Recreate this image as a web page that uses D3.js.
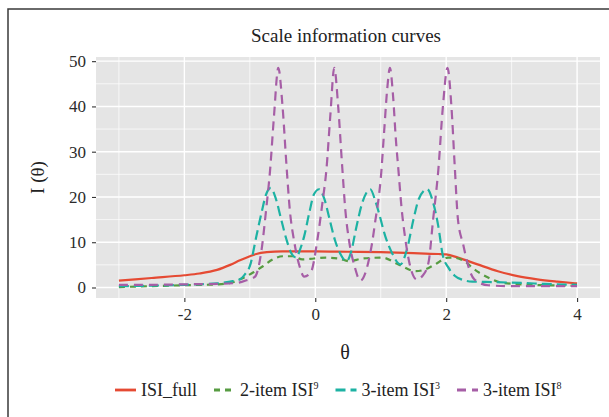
<!DOCTYPE html>
<html>
<head>
<meta charset="utf-8">
<script src="https://cdn.jsdelivr.net/npm/d3@7"></script>
<style>
  body { margin: 0; background: #fff; }
  svg { display: block; font-family: "Liberation Serif", "DejaVu Serif", serif; }
</style>
</head>
<body>
<div id="viz"></div>
<script>
// values
const seriesNames = ['ISI_full', '2-item ISI', '3-item ISI', '3-item ISI'];
const seriesSup = ['', '9', '3', '8'];

const thetaFull = [-3, -2.5, -2, -1.77, -1.5, -1.3, -1.15, -1.0, -0.9, -0.74, -0.5, 0, 0.5, 1.0, 1.5, 1.88, 2.0, 2.18, 2.48, 2.79, 3.09, 3.39, 3.7, 4.0];
const infoFull = [1.5, 2.1, 2.7, 3.1, 3.9, 5.0, 6.0, 6.9, 7.4, 7.8, 8.0, 8.0, 7.9, 7.8, 7.6, 7.4, 7.3, 6.6, 5.1, 3.6, 2.5, 1.8, 1.3, 0.9];

const thetaIsi9 = [-3, -2.5, -2, -1.5, -1.3, -1.15, -0.95, -0.8, -0.65, -0.5, -0.33, -0.2, -0.02, 0.16, 0.36, 0.52, 0.72, 1.02, 1.27, 1.53, 1.68, 1.83, 2.03, 2.1, 2.28, 2.43, 2.64, 2.84, 3.15, 3.5, 4];
const infoIsi9 = [0.1, 0.3, 0.5, 0.7, 1.0, 1.8, 3.3, 4.7, 6.2, 6.9, 6.9, 6.2, 6.4, 6.6, 6.4, 5.8, 6.4, 6.6, 5.1, 3.6, 4.0, 5.1, 6.6, 6.6, 5.8, 4.0, 2.2, 1.1, 0.7, 0.5, 0.4];

const thetaIsi3 = [-3, -2.5, -2, -1.5, -1.3, -1.15, -1.07, -1.0, -0.9, -0.82, -0.75, -0.68, -0.6, -0.52, -0.44, -0.37, -0.29, -0.23, -0.17, -0.09, -0.02, 0.06, 0.14, 0.22, 0.3, 0.38, 0.48, 0.55, 0.62, 0.72, 0.84, 0.92, 0.97, 1.07, 1.17, 1.3, 1.4, 1.5, 1.58, 1.71, 1.8, 1.88, 1.95, 2.03, 2.13, 2.25, 2.4, 2.7, 3.15, 3.5, 4];
const infoIsi3 = [0.3, 0.4, 0.6, 0.9, 1.3, 1.8, 3.0, 4.7, 11.3, 16.6, 20.6, 22.0, 19.5, 15.0, 10.6, 7.7, 6.6, 8.5, 11.3, 16.6, 20.6, 21.7, 19.5, 15.0, 10.5, 7.5, 5.8, 8.0, 12.8, 18.8, 21.7, 19.0, 16.6, 11.3, 7.7, 5.1, 8.4, 15.0, 19.5, 21.7, 18.8, 13.5, 7.0, 4.5, 2.6, 1.7, 1.3, 1.2, 1.0, 0.8, 0.6];

const thetaIsi8 = [-3, -2.5, -2, -1.5, -1.2, -1.05, -0.92, -0.82, -0.75, -0.69, -0.63, -0.565, -0.5, -0.44, -0.39, -0.32, -0.24, -0.17, -0.07, 0.04, 0.11, 0.17, 0.23, 0.29, 0.35, 0.41, 0.46, 0.52, 0.6, 0.69, 0.76, 0.82, 0.87, 0.92, 0.97, 1.0, 1.05, 1.1, 1.14, 1.19, 1.23, 1.27, 1.32, 1.37, 1.45, 1.55, 1.64, 1.73, 1.8, 1.88, 1.95, 2.02, 2.08, 2.13, 2.18, 2.26, 2.33, 2.43, 2.64, 3, 3.5, 4];
const infoIsi8 = [0.6, 0.6, 0.7, 0.8, 1.0, 1.6, 2.4, 8.4, 17.3, 26, 38, 48.5, 40, 27, 17.3, 10, 4.7, 2.4, 3.3, 11.3, 18.8, 26, 38, 48.5, 40, 27, 17, 10, 4.7, 1.5, 3.0, 6.2, 10, 15, 20, 24, 34, 44, 48.5, 42, 33, 26, 17.3, 11.3, 4.7, 1.8, 2.6, 5.5, 15, 26, 40, 48.5, 40, 27, 15, 9.5, 5.1, 1.8, 0.5, 0.3, 0.3, 0.3];

const xTicks = [-2, 0, 2, 4];
const xMinor = [-3, -1, 1, 3];
const yTicks = [0, 10, 20, 30, 40, 50];
const yMinor = [5, 15, 25, 35, 45];

const colors = ['#e54a33', '#579c42', '#1db2a3', '#a65ea6'];
const dashes = [null, '6,5', '10,5', '9,6'];

const width = 609;
const height = 417;
const panel = { left: 96, right: 600, top: 57, bottom: 298 };

const series = [
  { th: thetaFull, v: infoFull },
  { th: thetaIsi9, v: infoIsi9 },
  { th: thetaIsi3, v: infoIsi3 },
  { th: thetaIsi8, v: infoIsi8 }
].map((s, i) => ({
  name: seriesNames[i],
  sup: seriesSup[i],
  color: colors[i],
  dash: dashes[i],
  points: s.th.map((t, j) => [t, s.v[j]])
}));

// ggplot-like 5% expansion
const allX = series.flatMap(s => s.points.map(p => p[0]));
const allY = series.flatMap(s => s.points.map(p => p[1]));
const [x0, x1] = d3.extent(allX);
const [y0, y1] = d3.extent(allY);
const ex = (x1 - x0) * 0.05;
const ey = (y1 - y0) * 0.05;

const x = d3.scaleLinear().domain([x0 - ex, x1 + ex]).range([panel.left, panel.right]);
const y = d3.scaleLinear().domain([y0 - ey, y1 + ey]).range([panel.bottom, panel.top]);

const svg = d3.select('#viz')
  .append('svg')
  .attr('width', width)
  .attr('height', height);

svg.append('rect')
  .attr('width', width).attr('height', height)
  .attr('fill', '#fff');

// outer frame
svg.append('rect')
  .attr('x', 8).attr('y', 9)
  .attr('width', 640).attr('height', 440)
  .attr('fill', 'none')
  .attr('stroke', '#3a3a3a')
  .attr('stroke-width', 1.5);

svg.append('rect')
  .attr('x', panel.left).attr('y', panel.top)
  .attr('width', panel.right - panel.left)
  .attr('height', panel.bottom - panel.top)
  .attr('fill', '#e5e5e5');

const grid = svg.append('g').attr('stroke', '#fff');

grid.selectAll('.ymin').data(yMinor).enter().append('line')
  .attr('x1', panel.left).attr('x2', panel.right)
  .attr('y1', d => y(d)).attr('y2', d => y(d))
  .attr('stroke-width', 0.7);

grid.selectAll('.xmin').data(xMinor).enter().append('line')
  .attr('y1', panel.top).attr('y2', panel.bottom)
  .attr('x1', d => x(d)).attr('x2', d => x(d))
  .attr('stroke-width', 0.7);

grid.selectAll('.ymaj').data(yTicks).enter().append('line')
  .attr('x1', panel.left).attr('x2', panel.right)
  .attr('y1', d => y(d)).attr('y2', d => y(d))
  .attr('stroke-width', 1.4);

grid.selectAll('.xmaj').data(xTicks).enter().append('line')
  .attr('y1', panel.top).attr('y2', panel.bottom)
  .attr('x1', d => x(d)).attr('x2', d => x(d))
  .attr('stroke-width', 1.4);

const line = d3.line()
  .x(d => x(d[0]))
  .y(d => y(d[1]))
  .curve(d3.curveMonotoneX);

svg.append('defs').append('clipPath').attr('id', 'clip')
  .append('rect')
  .attr('x', panel.left).attr('y', panel.top)
  .attr('width', panel.right - panel.left)
  .attr('height', panel.bottom - panel.top);

svg.append('g')
  .attr('clip-path', 'url(#clip)')
  .selectAll('path')
  .data(series)
  .enter()
  .append('path')
  .attr('d', d => line(d.points))
  .attr('fill', 'none')
  .attr('stroke', d => d.color)
  .attr('stroke-width', 2.2)
  .attr('stroke-dasharray', d => d.dash);

// axes
const xAxis = svg.append('g')
  .attr('transform', `translate(0,${panel.bottom})`)
  .call(d3.axisBottom(x).tickValues(xTicks).tickSize(4).tickPadding(6).tickFormat(d3.format('d')));

const yAxis = svg.append('g')
  .attr('transform', `translate(${panel.left},0)`)
  .call(d3.axisLeft(y).tickValues(yTicks).tickSize(4).tickPadding(6));

[xAxis, yAxis].forEach(a => {
  a.select('.domain').remove();
  a.selectAll('.tick line').attr('stroke', '#333').attr('stroke-width', 1.1);
  a.selectAll('.tick text')
    .attr('fill', '#2b2b2b')
    .style('font-family', '"Liberation Serif", serif')
    .style('font-size', '17px');
});
xAxis.selectAll('.tick text').text(d => d < 0 ? '-' + Math.abs(d) : d);

svg.append('text')
  .attr('x', 346)
  .attr('y', 42)
  .attr('text-anchor', 'middle')
  .attr('fill', '#222')
  .style('font-size', '19px')
  .text('Scale information curves');

svg.append('text')
  .attr('x', 345)
  .attr('y', 359)
  .attr('text-anchor', 'middle')
  .attr('fill', '#222')
  .style('font-size', '20px')
  .text('θ');

svg.append('text')
  .attr('transform', `translate(44,${(panel.top + panel.bottom) / 2}) rotate(-90)`)
  .attr('text-anchor', 'middle')
  .attr('fill', '#222')
  .style('font-size', '19px')
  .text('I (θ)');

// legend
const legend = svg.append('g');
const keyW = 21;
const gap = 17;
let cursor = 0;
series.forEach(s => {
  const g = legend.append('g').attr('transform', `translate(${cursor},0)`);
  g.append('line')
    .attr('x1', 0).attr('x2', keyW)
    .attr('y1', 0).attr('y2', 0)
    .attr('stroke', s.color)
    .attr('stroke-width', 2.8)
    .attr('stroke-dasharray', s.dash);
  const t = g.append('text')
    .attr('x', keyW + 5)
    .attr('y', 6)
    .attr('fill', '#222')
    .style('font-size', '18px')
    .text(s.name);
  if (s.sup) {
    t.append('tspan')
      .attr('dy', -7)
      .style('font-size', '10px')
      .text(s.sup);
  }
  cursor += keyW + 5 + t.node().getComputedTextLength() + gap;
});
legend.attr('transform', 'translate(115,390)');
</script>
</body>
</html>
